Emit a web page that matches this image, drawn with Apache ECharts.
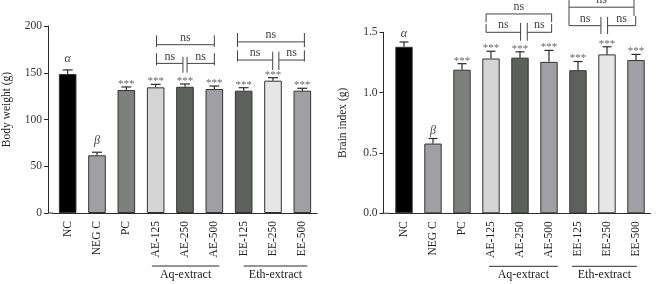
<!DOCTYPE html>
<html>
<head>
<meta charset="utf-8">
<script src="https://cdn.jsdelivr.net/npm/echarts@6/dist/echarts.min.js"></script>
<style>
html, body { margin: 0; padding: 0; background: #fff; }
#chart { width: 658px; height: 284px; }
</style>
</head>
<body>
<div id="chart"></div>
<script>
const categories = ['NC', 'NEG C', 'PC', 'AE-125', 'AE-250', 'AE-500', 'EE-125', 'EE-250', 'EE-500']
const sigLabels = ['α', 'β', '***', '***', '***', '***', '***', '***', '***']
const barColors = ['#000000', '#a0a0a4', '#7e807e', '#d4d4d4', '#5e605e', '#a0a0a4', '#5e605e', '#e6e6e6', '#a0a0a4']

// body weight (g)
const bodyWeight = [148.7, 61.7, 131.5, 134.4, 135, 132.6, 130.8, 141.5, 130.8]
const bodyWeightErr = [4.3, 3.3, 3.3, 3.2, 3, 3.2, 3.2, 3.2, 2.6]
const bodyWeightTicks = [0, 50, 100, 150, 200]

// brain index (g)
const brainIndex = [1.38, 0.578, 1.19, 1.283, 1.29, 1.255, 1.186, 1.317, 1.27]
const brainIndexErr = [0.04, 0.042, 0.05, 0.06, 0.048, 0.095, 0.072, 0.063, 0.047]
const brainIndexTicks = [0, 0.5, 1.0, 1.5]

// ns brackets: [from, to, level, left leg top, left leg bottom, right leg top, right leg bottom]
const bodyWeightBrackets = [
    [3.03, 5.0, 180, 190, 177.5, 190, 177.5],
    [3.03, 3.93, 160, 171, 158, 167, 150],
    [4.07, 5.0, 160, 167, 150, 171, 158],
    [5.79, 8.07, 183, 192.5, 177.5, 192.5, 177.5],
    [5.79, 6.99, 163.6, 174, 162, 172.5, 153],
    [7.2, 8.07, 163.6, 172.5, 153, 174, 162]
]
const brainIndexBrackets = [
    [2.83, 5.09, 1.652, 1.652, 1.583, 1.652, 1.583],
    [2.83, 4.02, 1.5, 1.569, 1.5, 1.578, 1.43],
    [4.25, 5.09, 1.5, 1.578, 1.43, 1.569, 1.5],
    [5.69, 7.93, 1.708, 1.778, 1.636, 1.778, 1.636],
    [5.69, 6.79, 1.555, 1.636, 1.555, 1.628, 1.486],
    [7.02, 7.99, 1.555, 1.628, 1.486, 1.636, 1.555]
]

// extract groups under the x axis: [from, to, name]
const bodyWeightGroups = [[2.87, 5.17, 'Aq-extract'], [6.0, 8.17, 'Eth-extract']]
const brainIndexGroups = [[2.93, 5.3, 'Aq-extract'], [5.79, 8.03, 'Eth-extract']]

const FONT = '"Liberation Serif", "DejaVu Serif", serif'
const INK = '#2b2b2b'

const chart = echarts.init(document.getElementById('chart'))

const xAxisFor = (gridIndex) => ({
    type: 'category',
    gridIndex,
    data: categories,
    axisLine: { lineStyle: { color: INK, width: 1 } },
    axisTick: { alignWithLabel: true, length: 4, lineStyle: { color: INK } },
    axisLabel: { rotate: 90, margin: 8, fontFamily: FONT, fontSize: 11.5, color: '#222' }
})

const yAxisFor = (gridIndex, ticks, name, offset, decimals, namePad) => ({
    type: 'value',
    gridIndex,
    min: ticks[0],
    max: ticks[ticks.length - 1],
    interval: ticks[1] - ticks[0],
    offset,
    name,
    nameLocation: 'middle',
    nameGap: 35,
    nameTextStyle: { fontFamily: FONT, fontSize: 11.5, color: '#222', padding: namePad },
    splitLine: { show: false },
    axisLine: { show: true, lineStyle: { color: INK, width: 1 } },
    axisTick: { show: true, length: 4, lineStyle: { color: INK } },
    axisLabel: {
        margin: 6, fontFamily: FONT, fontSize: 11.5, color: '#333',
        formatter: v => v.toFixed(decimals)
    }
})

const barSeries = (idx, values) => ({
    type: 'bar',
    xAxisIndex: idx,
    yAxisIndex: idx,
    barWidth: '60%',
    data: values.map((v, i) => ({ value: v, itemStyle: { color: barColors[i] } })),
    itemStyle: { borderColor: '#333', borderWidth: 1 },
    silent: true
})

const errorSeries = (idx, values, errs, capW, astGap, greekGap) => ({
    type: 'custom',
    xAxisIndex: idx,
    yAxisIndex: idx,
    data: values.map((v, i) => [i, v]),
    silent: true,
    z: 3,
    renderItem: (params, api) => {
        const i = params.dataIndex
        const base = api.coord([i, values[i]])
        const top = api.coord([i, values[i] + errs[i]])
        const lbl = sigLabels[i]
        const greek = lbl !== '***'
        const lineStyle = { stroke: INK, lineWidth: 1.2 }
        return {
            type: 'group',
            children: [
                { type: 'line', shape: { x1: base[0], y1: base[1], x2: top[0], y2: top[1] }, style: lineStyle },
                { type: 'line', shape: { x1: top[0] - capW / 2, y1: top[1], x2: top[0] + capW / 2, y2: top[1] }, style: lineStyle },
                {
                    type: 'text',
                    x: top[0],
                    y: top[1] - (greek ? greekGap : astGap),
                    style: {
                        text: lbl,
                        align: 'center',
                        verticalAlign: 'middle',
                        fill: greek ? '#444' : '#666',
                        font: greek ? 'italic 12px ' + FONT : '11px ' + FONT
                    }
                }
            ]
        }
    }
})

const bracketSeries = (idx, brackets) => ({
    type: 'custom',
    xAxisIndex: idx,
    yAxisIndex: idx,
    data: brackets.map(b => [Math.round(b[0]), b[2]]),
    silent: true,
    clip: false,
    z: 4,
    renderItem: (params, api) => {
        const b = brackets[params.dataIndex]
        const c0 = api.coord([0, 0])[0]
        const band = api.size([1, 0])[0]
        const px = p => c0 + p * band
        const py = v => api.coord([0, v])[1]
        const st = { stroke: '#444', lineWidth: 1 }
        const x1 = px(b[0]), x2 = px(b[1]), y = py(b[2])
        return {
            type: 'group',
            children: [
                { type: 'line', shape: { x1, y1: y, x2, y2: y }, style: st },
                { type: 'line', shape: { x1, y1: py(b[3]), x2: x1, y2: py(b[4]) }, style: st },
                { type: 'line', shape: { x1: x2, y1: py(b[5]), x2, y2: py(b[6]) }, style: st },
                {
                    type: 'text', x: (x1 + x2) / 2, y: y - 1,
                    style: { text: 'ns', align: 'center', verticalAlign: 'bottom', fill: '#444', font: '12px ' + FONT }
                }
            ]
        }
    }
})

const groupSeries = (idx, groups, axisOffset) => ({
    type: 'custom',
    xAxisIndex: idx,
    yAxisIndex: idx,
    data: groups.map(g => [Math.round(g[0]), 0]),
    silent: true,
    clip: false,
    renderItem: (params, api) => {
        const g = groups[params.dataIndex]
        const origin = api.coord([0, 0])
        const band = api.size([1, 0])[0]
        const px = p => origin[0] + p * band
        const children = [
            { type: 'line', shape: { x1: px(g[0]), y1: origin[1] + 53, x2: px(g[1]), y2: origin[1] + 53 }, style: { stroke: INK, lineWidth: 1 } },
            {
                type: 'text', x: (px(g[0]) + px(g[1])) / 2, y: origin[1] + 62,
                style: { text: g[2], align: 'center', verticalAlign: 'middle', fill: '#222', font: '12px ' + FONT }
            }
        ]
        if (params.dataIndex === 0) {
            // x axis line reaches back to the offset y axis
            const left = px(-0.5)
            children.push({ type: 'line', shape: { x1: left - axisOffset, y1: origin[1], x2: left, y2: origin[1] }, style: { stroke: INK, lineWidth: 1 } })
        }
        return { type: 'group', children }
    }
})

const option = {
    animation: false,
    grid: [
        { left: 47, top: 26, width: 270, height: 187 },
        { left: 389.5, top: 32.3, width: 261, height: 181 }
    ],
    xAxis: [xAxisFor(0), xAxisFor(1)],
    yAxis: [
        yAxisFor(0, bodyWeightTicks, 'Body weight (g)', 5, 0, [0, 0, 0, 20]),
        yAxisFor(1, brainIndexTicks, 'Brain index (g)', 6, 1, 0)
    ],
    series: [
        barSeries(0, bodyWeight),
        errorSeries(0, bodyWeight, bodyWeightErr, 10, 3, 11),
        bracketSeries(0, bodyWeightBrackets),
        groupSeries(0, bodyWeightGroups, 5),
        barSeries(1, brainIndex),
        errorSeries(1, brainIndex, brainIndexErr, 9, 3, 8),
        bracketSeries(1, brainIndexBrackets),
        groupSeries(1, brainIndexGroups, 6)
    ]
}

chart.setOption(option)
</script>
</body>
</html>
